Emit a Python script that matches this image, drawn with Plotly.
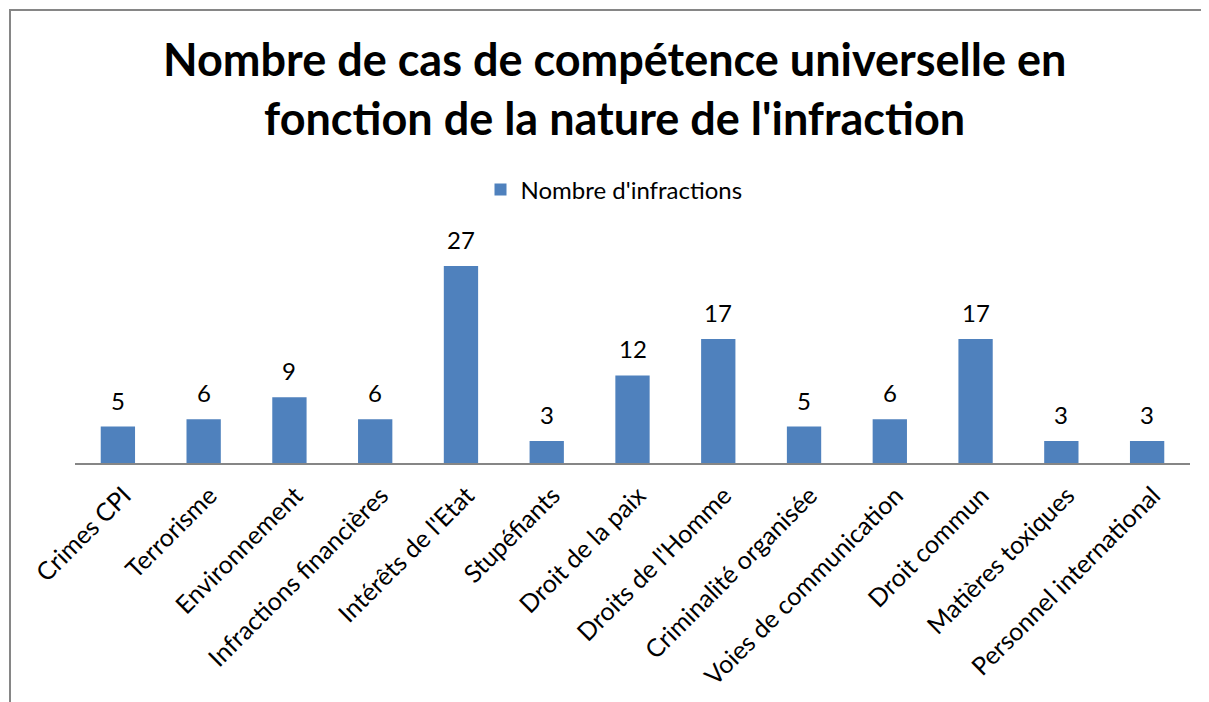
import plotly.graph_objects as go

categories = ["Crimes CPI", "Terrorisme", "Environnement", "Infractions financières",
              "Intérêts de l'Etat", "Stupéfiants", "Droit de la paix", "Droits de l'Homme",
              "Criminalité organisée", "Voies de communication", "Droit commun",
              "Matières toxiques", "Personnel international"]
values = [5, 6, 9, 6, 27, 3, 12, 17, 5, 6, 17, 3, 3]
series_name = "Nombre d'infractions"
title_text = "Nombre de cas de compétence universelle en<br>fonction de la nature de l'infraction"

FONT = "Lato"
OFF = 8  # page body margin
W, H = 1201, 694
# plot area in window pixels: x 75..1190, y 244..463
L = 75 - OFF
T = 244 - OFF
R = W - (1190 - OFF)
B = H - (463 - OFF)
PW, PH = W - L - R, H - T - B


def px_to_paper_x(px):
    return (px - OFF - L) / PW


def px_to_paper_y(py):
    return (H - B - (py - OFF)) / PH


fig = go.Figure()
fig.add_trace(go.Bar(
    x=categories, y=values, name=series_name,
    marker=dict(color="#4F81BD", line=dict(width=0)),
    width=0.4,
))
for c, v in zip(categories, values):
    fig.add_annotation(x=c, y=v, text=str(v), showarrow=False, yanchor="bottom",
                       yshift=10, font=dict(size=24, family=FONT, color="#000000"))

fig.add_annotation(xref="paper", yref="paper", x=px_to_paper_x(614), y=px_to_paper_y(30),
                   xanchor="center", yanchor="top", showarrow=False, text=title_text,
                   align="center",
                   font=dict(size=45, family=FONT, color="#000000", weight="bold"))

fig.update_layout(
    width=W, height=H,
    paper_bgcolor="white", plot_bgcolor="white",
    margin=dict(l=L, r=R, t=T, b=B, autoexpand=False),
    showlegend=True,
    legend=dict(orientation="h", x=px_to_paper_x(614), xanchor="center", y=px_to_paper_y(190),
                yanchor="middle", font=dict(size=24, family=FONT, color="#000000")),
    xaxis=dict(showline=True, linecolor="#868686", linewidth=2, ticks="", automargin=False,
               tickangle=-45, ticklabelstandoff=6, ticklabelshift=6,
               tickfont=dict(size=25, family=FONT, color="#000000")),
    yaxis=dict(range=[0, 30], visible=False),
)
fig.add_shape(type="line", xref="paper", yref="paper",
              x0=px_to_paper_x(10), x1=px_to_paper_x(10), y0=px_to_paper_y(9), y1=px_to_paper_y(702),
              line=dict(color="#868686", width=2))
fig.add_shape(type="line", xref="paper", yref="paper",
              x0=px_to_paper_x(10), x1=px_to_paper_x(1206), y0=px_to_paper_y(10), y1=px_to_paper_y(10),
              line=dict(color="#868686", width=2))
fig.write_html("out.html")
